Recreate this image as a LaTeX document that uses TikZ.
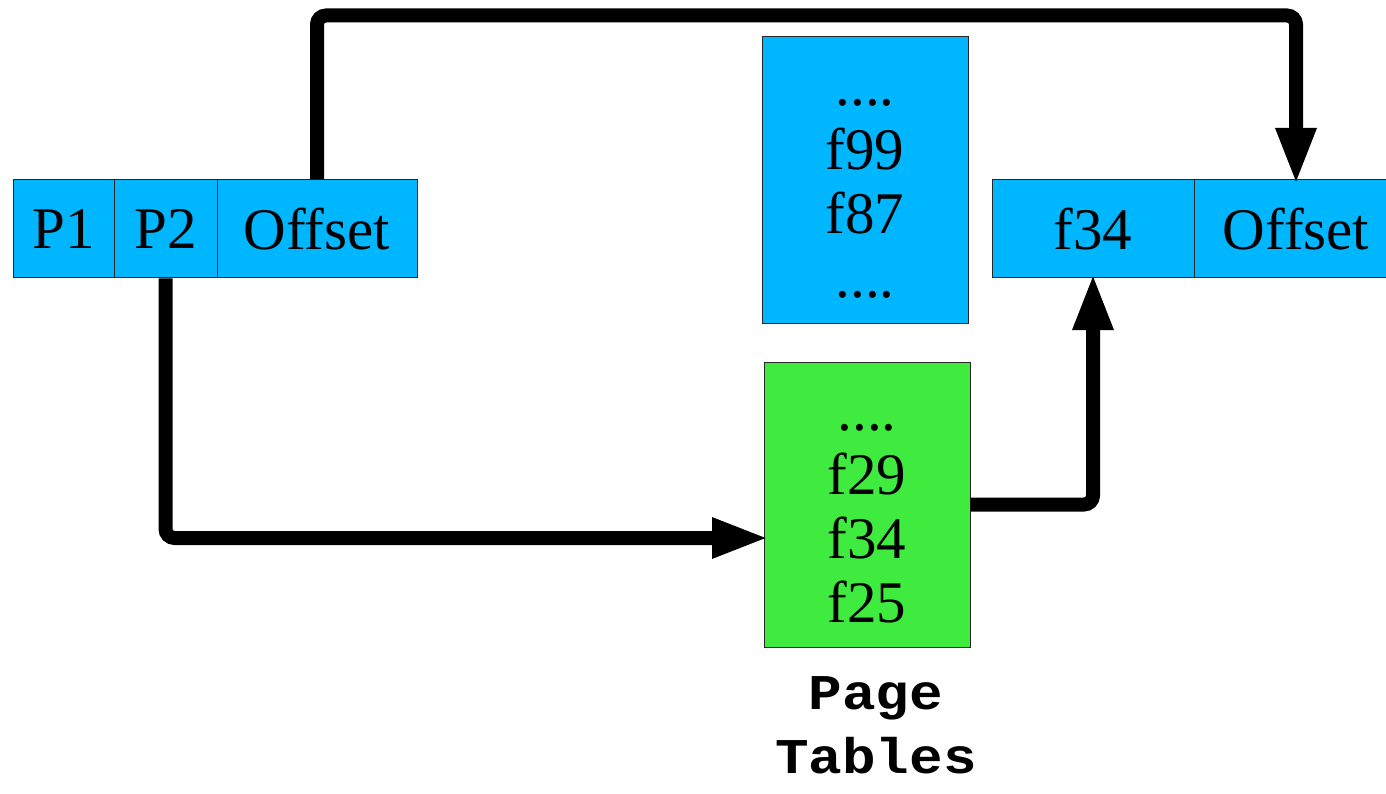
\documentclass[tikz,border=0pt]{standalone}
\usepackage{fontspec}
\setmainfont{Liberation Serif}
\newfontfamily\ptmono[FakeStretch=1.12]{Liberation Mono}
\usetikzlibrary{arrows.meta}
\definecolor{boxblue}{RGB}{0,182,255}
\definecolor{boxgreen}{RGB}{62,235,62}
\begin{document}
\begin{tikzpicture}[x=1pt,y=-1pt,
  cell/.style={draw=black!85, line width=1pt, fill=boxblue, inner sep=0pt,
    font=\fontsize{59}{64}\selectfont, align=center},
  tablebox/.style={cell, text width=200pt},
  arrowline/.style={line width=14pt, rounded corners=9pt, shorten >=-5.5pt,
    -{Triangle[length=57pt,width=37pt]}}]
\useasboundingbox (0,0) rectangle (1386,794);
% virtual address
\node[cell, minimum width=101pt, minimum height=98pt] (p1) at (63.5,229) {P1};
\node[cell, minimum width=103pt, minimum height=98pt] (p2) at (165.5,229) {P2};
\node[cell, minimum width=200pt, minimum height=98pt] (offL) at (317,229) {Offset};
% page tables
\node[tablebox, minimum width=206pt, minimum height=286pt] (outer) at (865,180) {\strut....\\f99\\f87\\....};
\node[tablebox, fill=boxgreen, minimum width=206pt, minimum height=285pt] (inner) at (867,504.5) {\strut....\\f29\\f34\\f25};
% physical address
\node[cell, minimum width=202pt, minimum height=98pt] (f34) at (1093,229) {f34};
\node[cell, minimum width=204pt, minimum height=98pt] (offR) at (1296,229) {Offset};
% label
\node[font=\ptmono\bfseries\fontsize{50}{60}\selectfont, align=center, anchor=base] (label) at (876,773) {Page\\[4pt]Tables};
% connectors
\coordinate (t1) at (317,15.5);
\coordinate (t2) at (1296,15.5);
\coordinate (c2) at (165.5,538);
\draw[arrowline] (offL.north) -- (t1) -- (t2) -- (offR.north);
\draw[arrowline] (p2.south) -- (c2) -- (c2 -| inner.west);
\draw[arrowline] (inner.east) -| (f34.south);
\end{tikzpicture}
\end{document}
